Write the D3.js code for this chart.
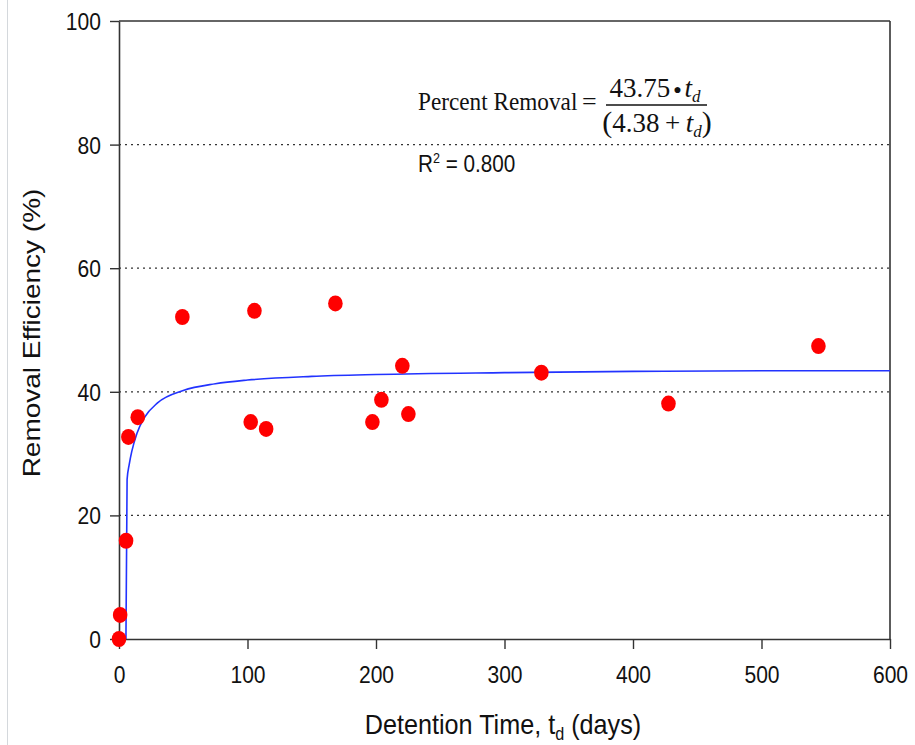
<!DOCTYPE html>
<html><head><meta charset="utf-8">
<script src="https://cdn.jsdelivr.net/npm/d3@7"></script>
<style>
html,body{margin:0;padding:0;background:#fff;}
svg{display:block;}
</style></head>
<body>
<script>
// ---- data ----
const detentionDays = [0, 0.9, 5.5, 7.3, 14.6, 49.3, 102.5, 105.4, 114.5, 168.4, 197.2, 204.2, 220.5, 225.2, 328.7, 427.6, 544.3];
const removalPct    = [0, 3.9, 15.9, 32.7, 35.9, 52.1, 35.1, 53.1, 34.0, 54.3, 35.1, 38.7, 44.2, 36.4, 43.1, 38.1, 47.4];
const fitDays = [5.4, 6.3, 8, 10, 14, 20, 30, 50, 75, 100, 150, 200, 300, 400, 500, 600];
const fitPct  = [0, 25.8, 28.3, 30.4, 33.3, 35.9, 38.2, 40.2, 41.3, 41.9, 42.5, 42.8, 43.1, 43.3, 43.4, 43.4];
const xTicks = [0, 100, 200, 300, 400, 500, 600];
const yTicks = [0, 20, 40, 60, 80, 100];
const gridValues = [20, 40, 60, 80];

const W = 915, H = 745;
const L = 119, R = 890, T = 21, B = 639;
const svg = d3.select("body").append("svg").attr("width", W).attr("height", H);

svg.append("line").attr("x1", 7.5).attr("x2", 7.5).attr("y1", 0).attr("y2", H)
  .attr("stroke", "#d4d8dc").attr("stroke-width", 1);

const x = d3.scaleLinear().domain([0, 600]).range([L, R]);
const y = d3.scaleLinear().domain([0, 100]).range([B, T]);

const axisColor = "#333";
const SX = 0.86;

// gridlines
svg.append("g").selectAll("line").data(gridValues).join("line")
  .attr("x1", L).attr("x2", R)
  .attr("y1", d => y(d)).attr("y2", d => y(d))
  .attr("stroke", "#333").attr("stroke-width", 1.3)
  .attr("stroke-dasharray", "2,4");

// axes
const xAxis = svg.append("g").attr("transform", `translate(0,${B})`)
  .call(d3.axisBottom(x).tickValues(xTicks).tickSize(10).tickSizeOuter(0).tickFormat(d3.format("d")));
const yAxis = svg.append("g").attr("transform", `translate(${L},0)`)
  .call(d3.axisLeft(y).tickValues(yTicks).tickSize(9).tickSizeOuter(0).tickFormat(d3.format("d")));
[xAxis, yAxis].forEach(a => {
  a.select(".domain").attr("stroke", axisColor).attr("stroke-width", 1.6);
  a.selectAll(".tick line").attr("stroke", axisColor).attr("stroke-width", 1.4);
  a.selectAll(".tick text").attr("fill", "#111")
    .style("font-family", "'Liberation Sans', Arial, sans-serif").style("font-size", "24.5px");
});
xAxis.selectAll(".tick text").attr("y", 0).attr("dy", 0)
  .attr("transform", `translate(0,44) scale(${SX},1)`);
yAxis.selectAll(".tick text").attr("x", 0).attr("dy", "0.35em")
  .attr("transform", `translate(-18,0) scale(${SX},1)`);

// frame top & right
svg.append("line").attr("x1", L).attr("x2", R).attr("y1", T).attr("y2", T)
  .attr("stroke", axisColor).attr("stroke-width", 1.6);
svg.append("line").attr("x1", R).attr("x2", R).attr("y1", T).attr("y2", B)
  .attr("stroke", axisColor).attr("stroke-width", 1.6);

// fit curve
const line = d3.line().x((d, i) => x(fitDays[i])).y((d, i) => y(fitPct[i])).curve(d3.curveMonotoneX);
svg.append("path").datum(fitPct).attr("d", line)
  .attr("fill", "none").attr("stroke", "#2233ff").attr("stroke-width", 1.6);

// points
svg.append("g").selectAll("ellipse").data(removalPct).join("ellipse")
  .attr("cx", (d, i) => x(detentionDays[i])).attr("cy", d => y(d))
  .attr("rx", 7.3).attr("ry", 8).attr("fill", "#ff0000");

// axis titles
const sans = "'Liberation Sans', Arial, sans-serif";
const xl = svg.append("g").attr("transform", `translate(503,734) scale(0.9,1)`)
  .append("text").attr("text-anchor", "middle").attr("fill", "#111")
  .style("font-family", sans).style("font-size", "28px");
xl.append("tspan").text("Detention Time, t");
xl.append("tspan").text("d").attr("dy", 6).style("font-size", "18px");
xl.append("tspan").text(" (days)").attr("dy", -6);

svg.append("g").attr("transform", `translate(40,333) scale(0.85,1) rotate(-90)`)
  .append("text").attr("text-anchor", "middle").attr("fill", "#111")
  .style("font-family", sans).style("font-size", "28px")
  .text("Removal Efficiency (%)");

// equation
const serif = "'Liberation Serif', 'Times New Roman', serif";
svg.append("g").attr("transform", "translate(418,110) scale(0.93,1)")
  .append("text").attr("fill", "#111")
  .style("font-family", serif).style("font-size", "25px").text("Percent Removal");
svg.append("text").attr("x", 582).attr("y", 110).attr("fill", "#111")
  .style("font-family", serif).style("font-size", "26px").text("=");
const num = svg.append("text").attr("x", 655).attr("y", 97).attr("text-anchor", "middle").attr("fill", "#111")
  .style("font-family", serif).style("font-size", "27px");
num.append("tspan").text("43.75");
num.append("tspan").text("\u2009\u25CF\u2009").style("font-size", "14px").attr("dy", -3);
num.append("tspan").text("t").style("font-style", "italic").attr("dy", 3);
num.append("tspan").text("d").style("font-style", "italic").style("font-size", "17px").attr("dy", 5);
svg.append("line").attr("x1", 606).attr("x2", 707).attr("y1", 105).attr("y2", 105)
  .attr("stroke", "#111").attr("stroke-width", 1.3);
const den = svg.append("text").attr("x", 657).attr("y", 132).attr("text-anchor", "middle").attr("fill", "#111")
  .style("font-family", serif).style("font-size", "27px");
den.append("tspan").text("(").style("font-size", "30px");
den.append("tspan").text("4.38\u2009+\u2009");
den.append("tspan").text("t").style("font-style", "italic");
den.append("tspan").text("d").style("font-style", "italic").style("font-size", "17px").attr("dy", 5);
den.append("tspan").text(")").attr("dy", -5).style("font-size", "30px");

const r2 = svg.append("g").attr("transform", "translate(418,172) scale(0.9,1)")
  .append("text").attr("fill", "#111")
  .style("font-family", sans).style("font-size", "23px");
r2.append("tspan").text("R");
r2.append("tspan").text("2").style("font-size", "14px").attr("dy", -9);
r2.append("tspan").text(" = 0.800").attr("dy", 9);
</script>
</body></html>
